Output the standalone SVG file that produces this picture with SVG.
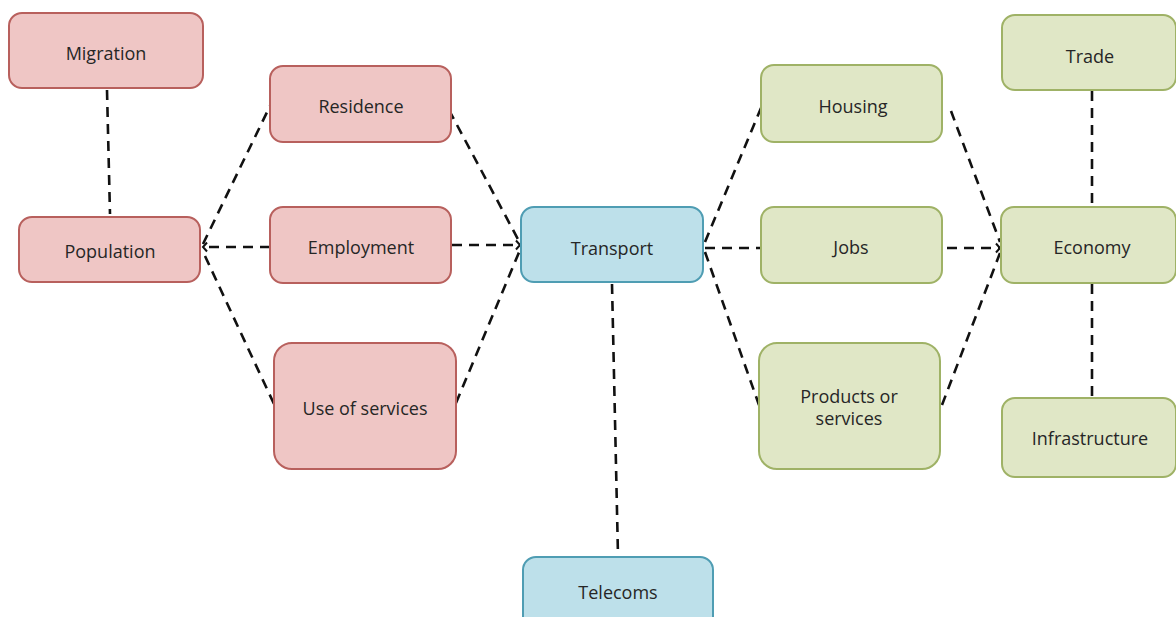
<svg xmlns="http://www.w3.org/2000/svg" width="1176" height="617" viewBox="0 0 1176 617">
  <defs>
    <marker id="chev" markerUnits="userSpaceOnUse" markerWidth="8" markerHeight="12" refX="5" refY="6" orient="auto">
      <path d="M1,1.5 L5,6 L1,10.5" fill="none" stroke="#111" stroke-width="2"/>
    </marker>
    <style>
      .box { stroke-width: 2; }
      .red { fill: #efc6c5; stroke: #b8605d; }
      .blue { fill: #bde0ea; stroke: #4f9db3; }
      .green { fill: #e0e7c6; stroke: #9fb266; }
      .lbl { font-family: "Open Sans", "Liberation Sans", sans-serif; font-size: 18px; fill: #262626; text-anchor: middle; }
      .link { fill: none; stroke: #111; stroke-width: 2.6; stroke-dasharray: 10 7; }
    </style>
  </defs>
  <rect width="1176" height="617" fill="#ffffff"/>

  <!-- connectors -->
  <g id="connectors">
    <line class="link" x1="107" y1="90" x2="110" y2="214"/>
    <line class="link" x1="203" y1="244" x2="271" y2="104"/>
    <line class="link" x1="270" y1="247" x2="203" y2="247" marker-end="url(#chev)"/>
    <line class="link" x1="205" y1="256" x2="274" y2="404"/>
    <line class="link" x1="449" y1="110" x2="520" y2="243"/>
    <line class="link" x1="452" y1="245" x2="520" y2="245" marker-end="url(#chev)"/>
    <line class="link" x1="456" y1="403" x2="520" y2="250"/>
    <line class="link" x1="612" y1="284" x2="618" y2="556"/>
    <line class="link" x1="705" y1="242" x2="761" y2="108"/>
    <line class="link" x1="705" y1="248" x2="761" y2="248"/>
    <line class="link" x1="705" y1="252" x2="759" y2="405"/>
    <line class="link" x1="951" y1="111" x2="1000" y2="242"/>
    <line class="link" x1="947" y1="248" x2="1000" y2="248" marker-end="url(#chev)"/>
    <line class="link" x1="942" y1="405" x2="1000" y2="253"/>
    <line class="link" x1="1092" y1="91" x2="1092" y2="206"/>
    <line class="link" x1="1092" y1="284" x2="1092" y2="397"/>
  </g>

  <!-- population side -->
  <g id="migration">
    <rect class="box red" x="9" y="13" width="194" height="75" rx="13"/>
    <text class="lbl" x="106" y="60">Migration</text>
  </g>
  <g id="population">
    <rect class="box red" x="19" y="217" width="181" height="65" rx="13"/>
    <text class="lbl" x="110" y="258">Population</text>
  </g>
  <g id="residence">
    <rect class="box red" x="270" y="66" width="181" height="76" rx="13"/>
    <text class="lbl" x="361" y="113">Residence</text>
  </g>
  <g id="employment">
    <rect class="box red" x="270" y="207" width="181" height="76" rx="13"/>
    <text class="lbl" x="361" y="254">Employment</text>
  </g>
  <g id="use-of-services">
    <rect class="box red" x="274" y="343" width="182" height="126" rx="18"/>
    <text class="lbl" x="365" y="415">Use of services</text>
  </g>

  <!-- transport hub -->
  <g id="transport">
    <rect class="box blue" x="521" y="207" width="182" height="75" rx="13"/>
    <text class="lbl" x="612" y="255">Transport</text>
  </g>
  <g id="telecoms">
    <rect class="box blue" x="523" y="557" width="190" height="80" rx="13"/>
    <text class="lbl" x="618" y="599">Telecoms</text>
  </g>

  <!-- economy side -->
  <g id="housing">
    <rect class="box green" x="761" y="65" width="181" height="77" rx="13"/>
    <text class="lbl" x="853" y="113">Housing</text>
  </g>
  <g id="jobs">
    <rect class="box green" x="761" y="207" width="181" height="76" rx="13"/>
    <text class="lbl" x="851" y="254">Jobs</text>
  </g>
  <g id="products-or-services">
    <rect class="box green" x="759" y="343" width="181" height="126" rx="18"/>
    <text class="lbl" x="849" y="403">Products or</text>
    <text class="lbl" x="849" y="425">services</text>
  </g>
  <g id="trade">
    <rect class="box green" x="1002" y="15" width="174" height="75" rx="13"/>
    <text class="lbl" x="1090" y="63">Trade</text>
  </g>
  <g id="economy">
    <rect class="box green" x="1001" y="207" width="175" height="76" rx="13"/>
    <text class="lbl" x="1092" y="254">Economy</text>
  </g>
  <g id="infrastructure">
    <rect class="box green" x="1002" y="398" width="174" height="79" rx="13"/>
    <text class="lbl" x="1090" y="445">Infrastructure</text>
  </g>
</svg>
